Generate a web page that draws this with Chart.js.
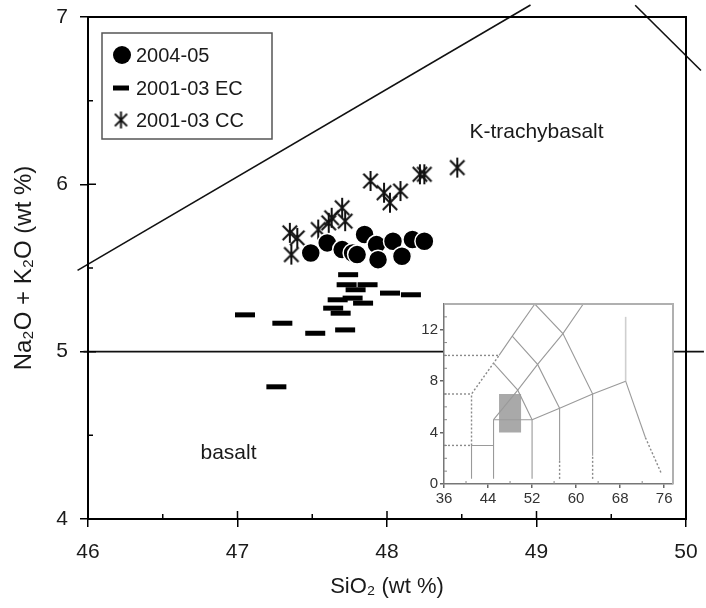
<!DOCTYPE html>
<html>
<head>
<meta charset="utf-8">
<script src="https://cdn.jsdelivr.net/npm/chart.js@4.4.1/dist/chart.umd.min.js"></script>
<style>
  html, body { margin: 0; padding: 0; background: #fff; }
  #wrap { position: relative; width: 706px; height: 608px; }
  #tasChart { position: absolute; left: 0; top: 0; }
  #insetChart { position: absolute; left: 405px; top: 295px; }
</style>
</head>
<body>
<div id="wrap">
  <canvas id="tasChart" width="706" height="608"></canvas>
  <canvas id="insetChart" width="280" height="215"></canvas>
</div>
<script>
// 2004-05 samples
const sio2_2004 = [47.49, 47.60, 47.70, 47.77, 47.80, 47.85, 47.93, 47.94, 48.04, 48.10, 48.17, 48.25];
const alk_2004  = [5.59, 5.65, 5.61, 5.59, 5.58, 5.70, 5.64, 5.55, 5.66, 5.57, 5.67, 5.66];

// 2001-03 EC samples
const sio2_EC = [47.05, 47.30, 47.26, 47.52, 47.72, 47.74, 47.73, 47.87, 47.79, 47.77, 47.67, 47.84, 47.64, 47.69, 48.02, 48.16];
const alk_EC  = [5.22, 5.17, 4.79, 5.11, 5.13, 5.46, 5.40, 5.40, 5.37, 5.32, 5.31, 5.29, 5.26, 5.23, 5.35, 5.34];

// 2001-03 CC samples
const sio2_CC = [47.35, 47.40, 47.36, 47.54, 47.61, 47.63, 47.70, 47.72, 47.89, 47.98, 48.02, 48.09, 48.22, 48.25, 48.47];
const alk_CC  = [5.71, 5.68, 5.58, 5.73, 5.77, 5.80, 5.86, 5.78, 6.02, 5.95, 5.89, 5.96, 6.06, 6.06, 6.10];

// TAS field boundaries crossing the zoomed window
const bndBasaltX = [45.93, 48.96];
const bndBasaltY = [5.486, 7.072];
const bndFiveX = [45.97, 50.12];
const bndFiveY = [5, 5];
const bndRightX = [49.66, 50.10];
const bndRightY = [7.07, 6.68];

// field names
const fieldNames = ['K-trachybasalt', 'basalt'];
const fieldX = [49.0, 46.94];
const fieldY = [6.31, 4.395];

const xTicks = [46, 47, 48, 49, 50];
const yTicks = [4, 5, 6, 7];
const seriesNames = ['2004-05', '2001-03 EC', '2001-03 CC'];

// inset: full TAS diagram
const insetXTicks = [36, 44, 52, 60, 68, 76];
const insetYTicks = [0, 4, 8, 12];
const insetSolid = [
  [[41, 0.4], [41, 3], [45, 3]],
  [[45, 0.4], [45, 5], [52, 5], [52, 0.4]],
  [[52, 5], [57, 5.9], [63, 7], [69, 8]],
  [[57, 1.8], [57, 5.9]],
  [[63, 2.2], [63, 7]],
  [[69, 8], [72.6, 3.6]],
  [[45, 5], [49.4, 7.3], [53, 9.3], [57.6, 11.7], [61.3, 14]],
  [[45, 9.4], [49.4, 7.3], [52, 5]],
  [[46, 10], [48.4, 11.5], [52.5, 14]],
  [[48.4, 11.5], [53, 9.3], [57, 5.9]],
  [[52.5, 14], [57.6, 11.7], [63, 7]]
];
const insetFaint = [
  [[69, 8], [69, 13]]
];
const insetDashed = [
  [[36, 3], [41, 3]],
  [[36, 7], [41, 7]],
  [[36, 10], [46, 10]],
  [[41, 3], [41, 7], [45, 9.4], [46, 10]],
  [[57, 0.4], [57, 1.8]],
  [[63, 0.4], [63, 2.2]],
  [[72.6, 3.6], [75.4, 0.9]]
];
const windowX = [46, 50, 50, 46, 46];
const windowY = [4, 4, 7, 7, 4];

const FONT = '"Liberation Sans", Arial, sans-serif';

function pts(xs, ys) {
  return xs.map((x, i) => ({ x: x, y: ys[i] }));
}

function makeStar(size, color) {
  const c = document.createElement('canvas');
  c.width = size; c.height = size;
  const g = c.getContext('2d');
  g.strokeStyle = color;
  g.lineWidth = 2;
  const m = size / 2, r = size / 2 - 1, d = r * 0.72;
  g.beginPath();
  g.moveTo(m, m - r); g.lineTo(m, m + r);
  g.moveTo(m - d, m - d); g.lineTo(m + d, m + d);
  g.moveTo(m + d, m - d); g.lineTo(m - d, m + d);
  g.stroke();
  return c;
}
const starImg = makeStar(22, '#111');
const starSmall = makeStar(19, '#111');

function boundary(xs, ys) {
  return {
    data: pts(xs, ys), showLine: true, borderColor: '#111', borderWidth: 1.6,
    pointRadius: 0, clip: false, order: 3
  };
}

// keep the plot box where the layout padding puts it
function noEdgePad(s) {
  s.paddingTop = 0; s.paddingBottom = 0; s.paddingLeft = 0; s.paddingRight = 0;
}

// frame, inner ticks, field names and boxed legend
const mainDecor = {
  id: 'mainDecor',
  afterDraw(chart) {
    const { ctx, chartArea: a, scales } = chart;
    ctx.save();
    ctx.strokeStyle = '#000';
    ctx.lineWidth = 2;
    ctx.strokeRect(a.left, a.top, a.right - a.left, a.bottom - a.top);

    ctx.lineWidth = 1.5;
    ctx.beginPath();
    [47, 48, 49].forEach(v => {
      const px = scales.x.getPixelForValue(v);
      ctx.moveTo(px, a.bottom); ctx.lineTo(px, a.bottom - 8);
    });
    [46.5, 47.5, 48.5, 49.5].forEach(v => {
      const px = scales.x.getPixelForValue(v);
      ctx.moveTo(px, a.bottom); ctx.lineTo(px, a.bottom - 5);
    });
    [5, 6].forEach(v => {
      const py = scales.y.getPixelForValue(v);
      ctx.moveTo(a.left, py); ctx.lineTo(a.left + 8, py);
    });
    [4.5, 5.5, 6.5].forEach(v => {
      const py = scales.y.getPixelForValue(v);
      ctx.moveTo(a.left, py); ctx.lineTo(a.left + 5, py);
    });
    ctx.stroke();

    ctx.fillStyle = '#1a1a1a';
    ctx.font = '21px ' + FONT;
    ctx.textAlign = 'center';
    ctx.textBaseline = 'middle';
    fieldNames.forEach((t, i) => {
      ctx.fillText(t, scales.x.getPixelForValue(fieldX[i]), scales.y.getPixelForValue(fieldY[i]));
    });

    // legend
    ctx.strokeStyle = '#555';
    ctx.lineWidth = 1.5;
    ctx.strokeRect(102, 33, 170, 106);
    const rows = [55, 88, 120];
    const drawPoint = Chart.helpers && Chart.helpers.drawPoint;
    chart.data.datasets.slice(0, 3).forEach((ds, i) => {
      const y = rows[i];
      ctx.fillStyle = ds.backgroundColor || '#000';
      ctx.strokeStyle = ds.borderColor || '#000';
      if (i === 0) {
        ctx.lineWidth = 1;
        drawPoint(ctx, { pointStyle: 'circle', radius: 9, borderWidth: 0, rotation: 0 }, 122, y);
      } else if (i === 1) {
        ctx.lineWidth = 5;
        drawPoint(ctx, { pointStyle: 'line', radius: 8, borderWidth: 5, rotation: 0 }, 121, y);
      } else {
        drawPoint(ctx, { pointStyle: starSmall, radius: 9, borderWidth: 0, rotation: 0 }, 121, y);
      }
      ctx.fillStyle = '#1a1a1a';
      ctx.font = '20px ' + FONT;
      ctx.textAlign = 'left';
      ctx.fillText(seriesNames[i], 136, y + 1);
    });
    ctx.restore();
  }
};

new Chart(document.getElementById('tasChart').getContext('2d'), {
  type: 'scatter',
  data: {
    datasets: [
      {
        label: seriesNames[0], data: pts(sio2_2004, alk_2004),
        pointStyle: 'circle', pointRadius: 9.5, backgroundColor: '#000',
        borderColor: '#fff', borderWidth: 1.5, order: 0
      },
      {
        label: seriesNames[1], data: pts(sio2_EC, alk_EC),
        pointStyle: 'line', pointRadius: 10, backgroundColor: '#000',
        borderColor: '#000', borderWidth: 5, order: 1
      },
      {
        label: seriesNames[2], data: pts(sio2_CC, alk_CC),
        pointStyle: starImg, pointRadius: 11, backgroundColor: '#111',
        borderColor: '#111', order: 2
      },
      boundary(bndBasaltX, bndBasaltY),
      boundary(bndFiveX, bndFiveY),
      boundary(bndRightX, bndRightY)
    ]
  },
  options: {
    responsive: false,
    animation: false,
    events: [],
    layout: { padding: { left: 10, right: 20, top: 17, bottom: 0 } },
    plugins: { legend: { display: false }, tooltip: { enabled: false } },
    scales: {
      x: {
        type: 'linear', min: 46, max: 50,
        afterBuildTicks: s => { s.ticks = xTicks.map(v => ({ value: v })); },
        afterFit: s => { s.height = 89; noEdgePad(s); },
        ticks: { font: { size: 21, family: FONT }, color: '#1a1a1a', padding: 13, maxRotation: 0 },
        grid: { drawOnChartArea: false, tickLength: 8, color: '#000', lineWidth: 1.5 },
        border: { color: '#000', width: 2 },
        title: { display: true, text: 'SiO₂ (wt %)', font: { size: 22, family: FONT }, color: '#1a1a1a', padding: { top: 0, bottom: 8 } }
      },
      y: {
        type: 'linear', min: 4, max: 7,
        afterBuildTicks: s => { s.ticks = yTicks.map(v => ({ value: v })); },
        afterFit: s => { s.width = 78; noEdgePad(s); },
        ticks: { font: { size: 21, family: FONT }, color: '#1a1a1a', padding: 12 },
        grid: { drawOnChartArea: false, tickLength: 8, color: '#000', lineWidth: 1.5 },
        border: { color: '#000', width: 2 },
        title: { display: true, text: 'Na₂O + K₂O (wt %)', font: { size: 24, family: FONT }, color: '#1a1a1a', padding: { top: 0, bottom: 0 } }
      }
    }
  },
  plugins: [mainDecor]
});

// inset chart
const insetDecor = {
  id: 'insetDecor',
  beforeDraw(chart) {
    const { ctx, chartArea: a } = chart;
    ctx.save();
    ctx.fillStyle = '#fff';
    ctx.fillRect(a.left, a.top, a.right - a.left, a.bottom - a.top);
    ctx.restore();
  },
  afterDraw(chart) {
    const { ctx, chartArea: a, scales } = chart;
    ctx.save();
    ctx.strokeStyle = '#b0b0b0';
    ctx.lineWidth = 2;
    ctx.beginPath();
    ctx.moveTo(a.left, a.top); ctx.lineTo(a.right, a.top); ctx.lineTo(a.right, a.bottom);
    ctx.stroke();
    ctx.strokeStyle = '#888';
    ctx.lineWidth = 1;
    ctx.beginPath();
    [40, 48, 56, 64, 72].forEach(v => {
      const px = scales.x.getPixelForValue(v);
      ctx.moveTo(px, a.bottom); ctx.lineTo(px, a.bottom - 3);
    });
    for (let v = 1; v < 14; v++) {
      if (v % 4 === 0) continue;
      const py = scales.y.getPixelForValue(v);
      ctx.moveTo(a.left, py); ctx.lineTo(a.left + 3, py);
    }
    ctx.stroke();
    ctx.restore();
  }
};

const insetSets = [];
insetSets.push({
  data: pts(windowX, windowY), showLine: true, fill: 'shape',
  backgroundColor: '#a9a9a9', borderWidth: 0, borderColor: 'rgba(0,0,0,0)',
  pointRadius: 0, order: 5
});
insetSolid.forEach(line => insetSets.push({
  data: line.map(p => ({ x: p[0], y: p[1] })), showLine: true,
  borderColor: '#9a9a9a', borderWidth: 1.1, pointRadius: 0, order: 1
}));
insetFaint.forEach(line => insetSets.push({
  data: line.map(p => ({ x: p[0], y: p[1] })), showLine: true,
  borderColor: '#cfcfcf', borderWidth: 1.6, pointRadius: 0, order: 1
}));
insetDashed.forEach(line => insetSets.push({
  data: line.map(p => ({ x: p[0], y: p[1] })), showLine: true, borderDash: [2, 2],
  borderColor: '#8a8a8a', borderWidth: 1.4, pointRadius: 0, order: 1
}));

new Chart(document.getElementById('insetChart').getContext('2d'), {
  type: 'scatter',
  data: { datasets: insetSets },
  options: {
    responsive: false,
    animation: false,
    events: [],
    layout: { padding: { left: 0, right: 12, top: 9, bottom: 0 } },
    plugins: { legend: { display: false }, tooltip: { enabled: false } },
    scales: {
      x: {
        type: 'linear', min: 36, max: 77.6,
        afterBuildTicks: s => { s.ticks = insetXTicks.map(v => ({ value: v })); },
        afterFit: s => { s.height = 26; noEdgePad(s); },
        ticks: { font: { size: 15, family: FONT }, color: '#333', padding: 2, maxRotation: 0 },
        grid: { drawOnChartArea: false, tickLength: 4, color: '#666', lineWidth: 1.5 },
        border: { color: '#777', width: 1.5 }
      },
      y: {
        type: 'linear', min: 0, max: 14,
        afterBuildTicks: s => { s.ticks = insetYTicks.map(v => ({ value: v })); },
        afterFit: s => { s.width = 39; noEdgePad(s); },
        ticks: { font: { size: 15, family: FONT }, color: '#333', padding: 2 },
        grid: { drawOnChartArea: false, tickLength: 4, color: '#666', lineWidth: 1.5 },
        border: { color: '#777', width: 1.5 }
      }
    }
  },
  plugins: [insetDecor]
});
</script>
</body>
</html>
